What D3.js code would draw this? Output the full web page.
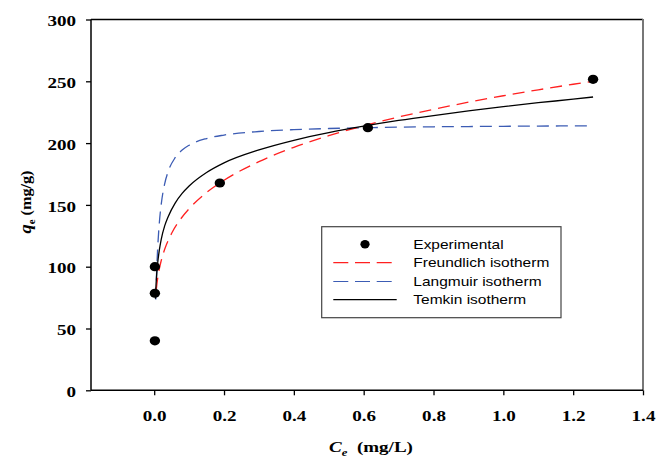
<!DOCTYPE html>
<html>
<head>
<meta charset="utf-8">
<script src="https://cdn.jsdelivr.net/npm/d3@7"></script>
<style>
  html, body { margin: 0; padding: 0; background: #fff; }
  svg { display: block; }
</style>
</head>
<body>
<svg id="chart" width="670" height="458"></svg>
<script>
// Experimental equilibrium data
const expCe = [0.002, 0.002, 0.002, 0.188, 0.612, 1.257];
const expQe = [100, 78.5, 40, 167.7, 212.5, 251.6];

// Fitted isotherm curves (Ce grid + q values)
const freundCe = [0.006, 0.008, 0.01, 0.015, 0.02, 0.03, 0.05, 0.075, 0.1, 0.15, 0.2, 0.3, 0.4, 0.5, 0.6, 0.7, 0.8, 0.9, 1.0, 1.1, 1.2, 1.257];
const freundQe = [81.4, 86.5, 90.6, 98.6, 104.8, 114.1, 127.0, 138.3, 146.9, 160.0, 169.9, 185.0, 196.6, 206.0, 214.0, 221.1, 227.3, 233.1, 238.3, 243.1, 247.6, 250.0];

const langCe = [0.0045, 0.006, 0.008, 0.01, 0.015, 0.02, 0.03, 0.04, 0.06, 0.08, 0.1, 0.15, 0.2, 0.3, 0.4, 0.5, 0.6, 0.7, 0.8, 0.9, 1.0, 1.1, 1.2, 1.257];
const langQe = [73.5, 88.0, 103.3, 115.3, 136.4, 150.2, 167.1, 177.0, 188.2, 194.4, 198.3, 203.7, 206.5, 209.4, 210.9, 211.8, 212.4, 212.9, 213.2, 213.4, 213.6, 213.8, 213.9, 214.0];

const temkCe = [0.0035, 0.005, 0.0075, 0.01, 0.015, 0.02, 0.03, 0.04, 0.06, 0.08, 0.1, 0.15, 0.2, 0.3, 0.4, 0.5, 0.6, 0.7, 0.8, 0.9, 1.0, 1.1, 1.2, 1.257];
const temkQe = [74, 84, 95, 103, 114, 122, 133, 140.5, 151.5, 159.3, 165.3, 176.2, 184, 194.5, 202.3, 208.5, 213.7, 218.3, 222.3, 226, 229.5, 232.7, 235.5, 237.3];

// Axis ticks
const xTicks = [0.0, 0.2, 0.4, 0.6, 0.8, 1.0, 1.2, 1.4];
const yTicks = [0, 50, 100, 150, 200, 250, 300];

const legendLabels = ["Experimental", "Freundlich isotherm", "Langmuir isotherm", "Temkin isotherm"];

const RED = "#ff2020", BLUE = "#3c5cb4";
const STRETCH = 1.27;   // wide glyphs

const svg = d3.select("#chart");
const L = 91, R = 643, T = 19.5, B = 390.3;

const x = d3.scaleLinear().domain([-0.181, 1.4]).range([L, R]);
const y = d3.scaleLinear().domain([0, 300]).range([B, T]);

// frame: top black, right grey
svg.append("line").attr("x1", L).attr("x2", R).attr("y1", T).attr("y2", T)
  .attr("stroke", "#000").attr("stroke-width", 1.3);
svg.append("line").attr("x1", R).attr("x2", R).attr("y1", T - 0.6).attr("y2", B)
  .attr("stroke", "#777").attr("stroke-width", 2);

// axes
const xAxis = d3.axisBottom(x).tickValues(xTicks).tickSize(5).tickSizeOuter(0).tickFormat(d3.format(".1f"));
const yAxis = d3.axisLeft(y).tickValues(yTicks).tickSize(5).tickSizeOuter(0).tickFormat(d3.format("d"));

const gx = svg.append("g").attr("transform", `translate(0,${B})`).call(xAxis);
const gy = svg.append("g").attr("transform", `translate(${L},0)`).call(yAxis);

[gx, gy].forEach(g => {
  g.select(".domain").attr("stroke", "#000").attr("stroke-width", 1.5);
  g.selectAll(".tick line").attr("stroke", "#000").attr("stroke-width", 1.3);
  g.selectAll(".tick text")
    .attr("fill", "#000")
    .style("font-family", "'Liberation Serif', 'Times New Roman', serif")
    .style("font-weight", "bold")
    .style("font-size", "15px");
});
gx.select(".domain").attr("d", `M${L},0H${R}`);
gy.select(".domain").attr("d", `M0,${B}V${T}`);

gx.selectAll(".tick text")
  .attr("y", 0).attr("dy", 0)
  .attr("transform", `translate(0,31) scale(${STRETCH},1)`);
gy.selectAll(".tick text")
  .attr("x", 0).attr("dy", "0.34em")
  .attr("transform", `translate(-15,1) scale(${STRETCH},1)`);

// curves
const line = d3.line().x(d => x(d[0])).y(d => y(d[1])).curve(d3.curveMonotoneX);
const zip = (a, b) => a.map((v, i) => [v, b[i]]);

svg.append("path").datum(zip(langCe, langQe)).attr("d", line)
  .attr("fill", "none").attr("stroke", BLUE).attr("stroke-width", 1.3).attr("stroke-dasharray", "12,7");
svg.append("path").datum(zip(freundCe, freundQe)).attr("d", line)
  .attr("fill", "none").attr("stroke", RED).attr("stroke-width", 1.3).attr("stroke-dasharray", "12,7");
svg.append("path").datum(zip(temkCe, temkQe)).attr("d", line)
  .attr("fill", "none").attr("stroke", "#000").attr("stroke-width", 1.3);

// experimental points
svg.append("g").selectAll("ellipse").data(zip(expCe, expQe)).join("ellipse")
  .attr("cx", d => x(d[0])).attr("cy", d => y(d[1]))
  .attr("rx", 5.2).attr("ry", 4.6).attr("fill", "#000");

// legend
const lg = svg.append("g");
lg.append("rect").attr("x", 321.7).attr("y", 226.7).attr("width", 239.3).attr("height", 91)
  .attr("fill", "#fff").attr("stroke", "#444").attr("stroke-width", 1.2);
const rowY = [244.3, 262.7, 281.5, 299.6];
lg.append("ellipse").attr("cx", 365).attr("cy", rowY[0]).attr("rx", 4.6).attr("ry", 4.2).attr("fill", "#000");
const swatch = [[RED, "15,6.7"], [BLUE, "15,6.7"], ["#000", null]];
swatch.forEach((s, i) => {
  lg.append("line").attr("x1", 333.3).attr("x2", i === 2 ? 396.7 : 392)
    .attr("y1", rowY[i + 1]).attr("y2", rowY[i + 1])
    .attr("stroke", s[0]).attr("stroke-width", 1.2)
    .attr("stroke-dasharray", s[1]);
});
lg.selectAll("text").data(legendLabels).join("text")
  .attr("transform", (d, i) => `translate(413.3,${rowY[i] + 4.3}) scale(${STRETCH},1)`)
  .style("font-family", "'Liberation Sans', Arial, sans-serif")
  .style("font-size", "12.2px")
  .attr("fill", "#000")
  .text(d => d);

// axis titles
const serif = "'Liberation Serif', 'Times New Roman', serif";
const xt = svg.append("text")
  .attr("transform", `translate(371,452) scale(${STRETCH},1)`)
  .attr("text-anchor", "middle")
  .style("font-family", serif).style("font-weight", "bold").style("font-size", "15px");
xt.append("tspan").style("font-style", "italic").text("C");
xt.append("tspan").attr("dy", 4).style("font-style", "italic").style("font-size", "10px").text("e");
xt.append("tspan").attr("dy", -4).text("\u00a0 (mg/L)");

const yt = svg.append("text")
  .attr("transform", `translate(31,202) rotate(-90) scale(${STRETCH * 0.85},1)`)
  .attr("text-anchor", "middle")
  .style("font-family", serif).style("font-weight", "bold").style("font-size", "15px");
yt.append("tspan").style("font-style", "italic").style("font-size", "17px").text("q");
yt.append("tspan").attr("dy", 4).style("font-size", "10px").text("e");
yt.append("tspan").attr("dy", -4).text(" (mg/g)");
</script>
</body>
</html>
